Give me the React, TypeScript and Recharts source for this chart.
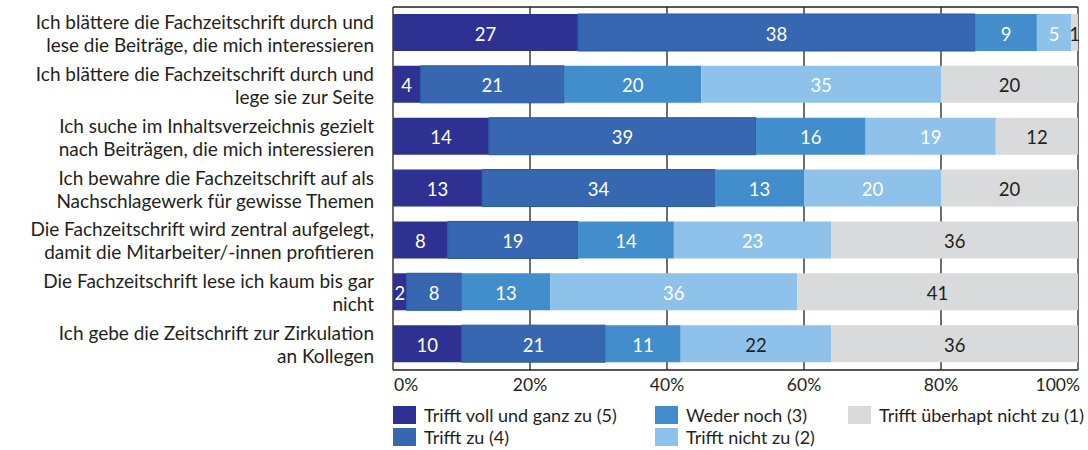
import { Bar, BarChart, CartesianGrid, LabelList, XAxis, YAxis } from 'recharts'

const statements = [
  'Ich blättere die Fachzeitschrift durch und\nlese die Beiträge, die mich interessieren',
  'Ich blättere die Fachzeitschrift durch und\nlege sie zur Seite',
  'Ich suche im Inhaltsverzeichnis gezielt\nnach Beiträgen, die mich interessieren',
  'Ich bewahre die Fachzeitschrift auf als\nNachschlagewerk für gewisse Themen',
  'Die Fachzeitschrift wird zentral aufgelegt,\ndamit die Mitarbeiter/-innen profitieren',
  'Die Fachzeitschrift lese ich kaum bis gar\nnicht',
  'Ich gebe die Zeitschrift zur Zirkulation\nan Kollegen',
]

// bar widths (percent) as drawn
const vollUndGanz = [27, 4, 14, 13, 8, 2, 10]
const trifftZu = [58, 21, 39, 34, 19, 8, 21]
const wederNoch = [9, 20, 16, 13, 14, 13, 11]
const trifftNicht = [5, 35, 19, 20, 23, 36, 22]
const ueberhauptNicht = [1, 20, 12, 20, 36, 41, 36]

// printed numbers on "Trifft zu" (first row is labelled 38 in the original)
const trifftZuShown = [38, 21, 39, 34, 19, 8, 21]

const xTicks = [0, 20, 40, 60, 80, 100]

const FONT = 'Lato, "Open Sans", sans-serif'
const INK = '#231f20'

const series = [
  { key: 'voll', name: 'Trifft voll und ganz zu (5)', color: '#2e3192', text: '#fff' },
  { key: 'zu', name: 'Trifft zu (4)', color: '#3767b1', text: '#fff' },
  { key: 'weder', name: 'Weder noch (3)', color: '#428dcb', text: '#fff' },
  { key: 'nicht', name: 'Trifft nicht zu (2)', color: '#8ec2ea', text: '#fff' },
  { key: 'ueberhaupt', name: 'Trifft überhapt nicht zu (1)', color: '#d9dadc', text: INK },
]

// one light-blue label is printed dark in the original
const darkLabel = { key: 'nicht', row: 6 }

const data = statements.map((label, i) => ({
  label,
  voll: vollUndGanz[i],
  zu: trifftZu[i],
  zuShown: trifftZuShown[i],
  weder: wederNoch[i],
  nicht: trifftNicht[i],
  ueberhaupt: ueberhauptNicht[i],
}))

function StatementTick({ y, payload }: any) {
  const lines = String(payload.value).split('\n')
  return (
    <text x={374} y={y} textAnchor="end" fontSize={19} fill={INK} fontFamily={FONT}>
      {lines.map((line, i) => (
        <tspan key={i} x={374} y={y + (i - (lines.length - 1) / 2) * 23} dominantBaseline="central">
          {line}
        </tspan>
      ))}
    </text>
  )
}

function PercentTick({ x, y, payload }: any) {
  const v = payload.value
  const anchor = v === 0 ? 'start' : v === 100 ? 'end' : 'middle'
  const dx = v === 0 ? 1 : v === 100 ? 2 : 0
  return (
    <text x={x + dx} y={y + 6} textAnchor={anchor} dominantBaseline="central" fontSize={17.5} fill={INK} fontFamily={FONT}>
      {`${v}%`}
    </text>
  )
}

function segmentLabel(key: string, textColor: string) {
  return (props: any) => {
    const { x, y, width, height, value, index } = props
    const shown = key === 'zu' ? data[index].zuShown : value
    const fill = key === darkLabel.key && index === darkLabel.row ? INK : textColor
    return (
      <text
        x={x + width / 2}
        y={y + height / 2 + 1}
        textAnchor="middle"
        dominantBaseline="central"
        fontSize={18.5}
        fill={fill}
        fontFamily={FONT}
      >
        {shown}
      </text>
    )
  }
}

function LegendBlock() {
  const spots = [
    { left: 393, top: 406 },
    { left: 393, top: 428 },
    { left: 655, top: 406 },
    { left: 655, top: 428 },
    { left: 848, top: 406 },
  ]
  return (
    <>
      {series.map((s, i) => (
        <div
          key={s.key}
          style={{
            position: 'absolute',
            left: spots[i].left,
            top: spots[i].top,
            display: 'flex',
            alignItems: 'center',
            fontFamily: FONT,
            fontSize: 18,
            color: INK,
            whiteSpace: 'nowrap',
            lineHeight: '18px',
          }}
        >
          <span style={{ display: 'inline-block', width: 23, height: 18, background: s.color, marginRight: 8 }} />
          {s.name}
        </div>
      ))}
    </>
  )
}

export default function App() {
  return (
    <div style={{ position: 'absolute', left: 0, top: 0, width: 1088, height: 450, background: '#fff' }}>
      <BarChart
        width={1088}
        height={450}
        data={data}
        layout="vertical"
        margin={{ top: 7, right: 10, bottom: 0, left: 0 }}
        barSize={37}
      >
        <CartesianGrid
          horizontal={true}
          vertical={true}
          horizontalPoints={[7, 370]}
          stroke={INK}
          strokeWidth={1.3}
        />
        <XAxis
          type="number"
          domain={[0, 100]}
          ticks={xTicks}
          height={80}
          axisLine={false}
          tickLine={false}
          tick={<PercentTick />}
          interval={0}
        />
        <YAxis
          type="category"
          dataKey="label"
          width={393}
          axisLine={false}
          tickLine={false}
          tick={<StatementTick />}
          interval={0}
        />
        {series.map((s) => (
          <Bar
            key={s.key}
            dataKey={s.key}
            name={s.name}
            stackId="a"
            fill={s.color}
            stroke={s.key === 'zu' ? '#2259a6' : 'none'}
            strokeWidth={1}
            isAnimationActive={false}
          >
            <LabelList dataKey={s.key} content={segmentLabel(s.key, s.text)} />
          </Bar>
        ))}
      </BarChart>
      <LegendBlock />
    </div>
  )
}
